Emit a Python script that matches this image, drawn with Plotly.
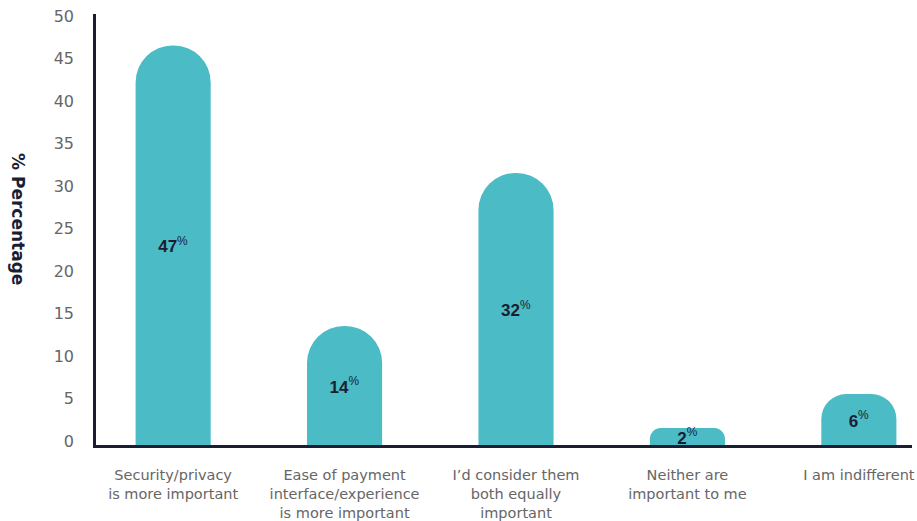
import plotly.graph_objects as go

categories = [
    "Security/privacy<br>is more important",
    "Ease of payment<br>interface/experience<br>is more important",
    "I\u2019d consider them<br>both equally<br>important",
    "Neither are<br>important to me",
    "I am indifferent",
]
values = [47, 14, 32, 2, 6]
labels = ["47", "14", "32", "2", "6"]
y_ticks = [0, 5, 10, 15, 20, 25, 30, 35, 40, 45, 50]
y_title = "% Percentage"

BAR_COLOR = "#4bbbc5"
DARK = "#1b1d33"
GRAY = "#666666"
FONT = "DejaVu Sans"

plot_h = 431
y_max = 50.7
px_per_unit = plot_h / y_max
bar_px = 75
bar_w = 0.438

fig = go.Figure()
for i, (cat, v, lab) in enumerate(zip(categories, values, labels)):
    radius = min(bar_px / 2, max(v * px_per_unit, 23) / 2)
    fig.add_trace(go.Bar(
        x=[i], y=[v],
        width=bar_w,
        marker=dict(color=BAR_COLOR, line=dict(width=0), cornerradius=radius),
        text=["<b>" + lab + "</b><sup>%</sup>"],
        textposition="inside",
        insidetextanchor="middle",
        textangle=0,
        constraintext="none",
        textfont=dict(family="Liberation Sans, Arial", size=17, color=DARK),
        showlegend=False,
        hoverinfo="skip",
    ))

fig.add_annotation(
    text="<b>" + y_title + "</b>",
    xref="paper", yref="paper",
    x=0, xshift=-78, xanchor="center",
    y=(445 - 219) / plot_h, yanchor="middle",
    textangle=90, showarrow=False,
    font=dict(family=FONT, size=17, color=DARK),
)

fig.update_layout(
    width=917, height=521,
    margin=dict(l=96, r=5, t=14, b=76, autoexpand=False),
    paper_bgcolor="white", plot_bgcolor="white",
    barmode="overlay",
    uniformtext=dict(mode="show", minsize=17),
    xaxis=dict(
        range=[-0.45, 4.31],
        tickvals=list(range(len(categories))),
        ticktext=categories,
        tickfont=dict(family=FONT, size=14.5, color=GRAY),
        showgrid=False, zeroline=False,
        showline=True, linecolor=DARK, linewidth=2.5,
        ticks="", ticklabelstandoff=15,
        tickangle=0, automargin=False,
    ),
    yaxis=dict(
        range=[0, y_max],
        tickvals=y_ticks,
        tickfont=dict(family=FONT, size=16, color=GRAY),
        showgrid=False, zeroline=False,
        showline=True, linecolor=DARK, linewidth=2.5,
        ticks="", ticklabelstandoff=16, ticklabelshift=-4,
        automargin=False,
    ),
)

fig.write_html("out.html")
